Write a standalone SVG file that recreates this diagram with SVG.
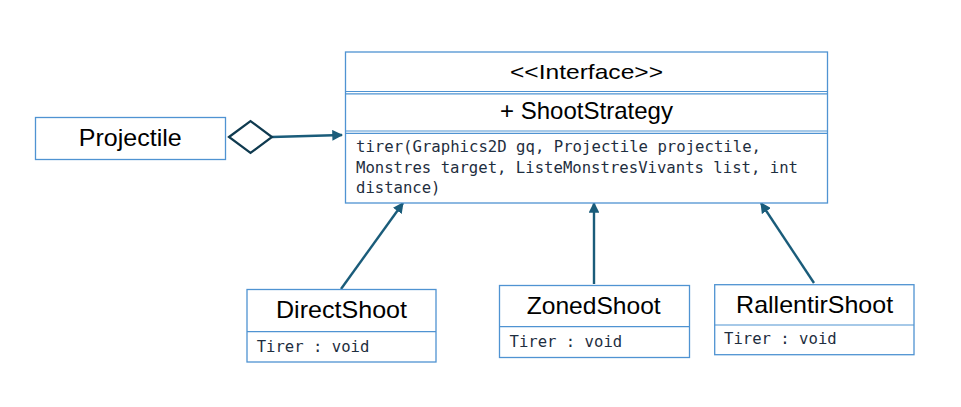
<svg xmlns="http://www.w3.org/2000/svg" width="961" height="407" viewBox="0 0 961 407">
<defs>
<style>
.box{fill:#fff;stroke:#4f93d2;stroke-width:1.3}
.sep{stroke:#4f93d2;stroke-width:1.2;fill:none}
.t{font-family:"Liberation Sans",Arial,sans-serif;fill:#000;text-anchor:middle}
.m{font-family:"DejaVu Sans Mono","Liberation Mono",monospace;font-size:15.6px;fill:#1e2e40}
.conn{stroke:#1a5c7a;stroke-width:2.4;fill:none}
</style>
<marker id="arr" viewBox="0 0 10 10" refX="9" refY="5" markerWidth="4.5" markerHeight="4.5" markerUnits="strokeWidth" orient="auto">
<path d="M0,0 L10,5 L0,10 z" fill="#1a5c7a"/>
</marker>
</defs>
<rect width="961" height="407" fill="#fff"/>
<g id="connectors">
<line class="conn" x1="272" y1="137" x2="342" y2="135" marker-end="url(#arr)"/>
<line class="conn" x1="341" y1="289" x2="403" y2="203" marker-end="url(#arr)"/>
<line class="conn" x1="594" y1="284" x2="594" y2="203" marker-end="url(#arr)"/>
<line class="conn" x1="814" y1="283" x2="761" y2="203" marker-end="url(#arr)"/>
<polygon points="229,137 250.5,121 272,137 250.5,153" fill="#fff" stroke="#0f3a4f" stroke-width="2.2"/>
</g>
<g id="ShootStrategy">
<rect class="box" x="345.5" y="52" width="482" height="151"/>
<line class="sep" x1="345.5" y1="91.5" x2="827.5" y2="91.5"/>
<line class="sep" x1="345.5" y1="93.8" x2="827.5" y2="93.8"/>
<line class="sep" x1="345.5" y1="131" x2="827.5" y2="131"/>
<line class="sep" x1="345.5" y1="133.3" x2="827.5" y2="133.3"/>
<text class="t" x="586.5" y="79" font-size="21" textLength="153" lengthAdjust="spacingAndGlyphs">&lt;&lt;Interface&gt;&gt;</text>
<text class="t" x="586.5" y="119" font-size="24" textLength="173" lengthAdjust="spacingAndGlyphs">+ ShootStrategy</text>
<text class="m" x="356" y="152" textLength="405" lengthAdjust="spacingAndGlyphs">tirer(Graphics2D gq, Projectile projectile,</text>
<text class="m" x="356" y="172.5" textLength="442" lengthAdjust="spacingAndGlyphs">Monstres target, ListeMonstresVivants list, int</text>
<text class="m" x="356" y="193">distance)</text>
</g>
<g id="Projectile">
<rect class="box" x="35.5" y="117.5" width="190" height="42"/>
<text class="t" x="130.3" y="145.5" font-size="24" textLength="103" lengthAdjust="spacingAndGlyphs">Projectile</text>
</g>
<g id="DirectShoot">
<rect class="box" x="247" y="289.5" width="189" height="72.5"/>
<line class="sep" x1="247" y1="331.7" x2="436" y2="331.7"/>
<text class="t" x="341.5" y="318" font-size="24" textLength="131" lengthAdjust="spacingAndGlyphs">DirectShoot</text>
<text class="m" x="256.7" y="351.7">Tirer : void</text>
</g>
<g id="ZonedShoot">
<rect class="box" x="499.5" y="285.5" width="190" height="72"/>
<line class="sep" x1="499.5" y1="326.7" x2="689.5" y2="326.7"/>
<text class="t" x="593.7" y="313.5" font-size="24" textLength="134" lengthAdjust="spacingAndGlyphs">ZonedShoot</text>
<text class="m" x="509.5" y="346.7">Tirer : void</text>
</g>
<g id="RallentirShoot">
<rect class="box" x="714.7" y="284.7" width="199.3" height="70"/>
<line class="sep" x1="714.7" y1="325" x2="914" y2="325"/>
<text class="t" x="814.6" y="312.7" font-size="24" textLength="157" lengthAdjust="spacingAndGlyphs">RallentirShoot</text>
<text class="m" x="724" y="344">Tirer : void</text>
</g>
</svg>
